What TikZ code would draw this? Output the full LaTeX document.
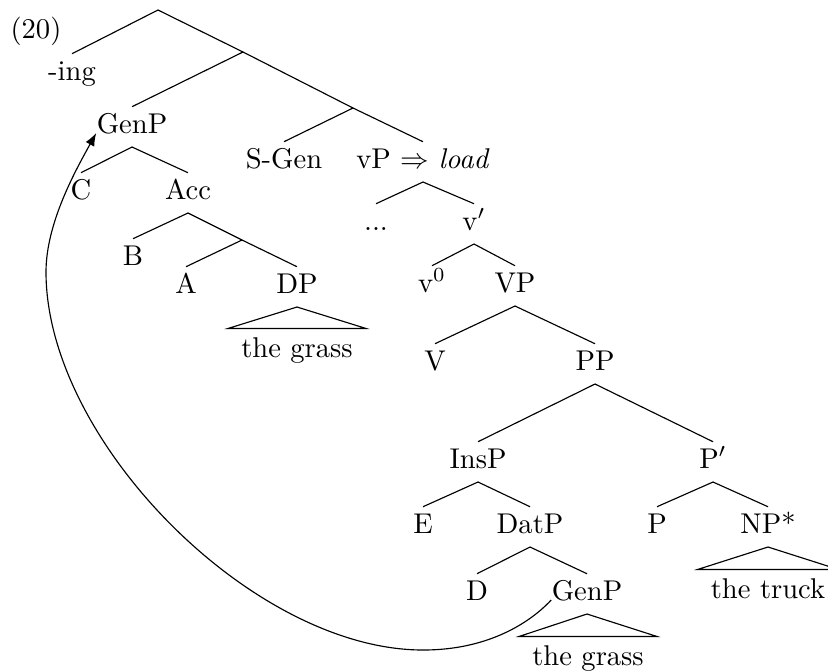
\documentclass[tikz,border=0pt]{standalone}
\usetikzlibrary{arrows.meta}
\begin{document}
\begin{tikzpicture}[x=0.35pt,y=-0.35pt,
  lab/.style={anchor=base, text height=7pt, text depth=2.7pt, inner xsep=0pt, inner ysep=2pt},
  tri/.style={anchor=base, text height=7pt, text depth=2pt, inner xsep=4.4pt, inner ysep=2.8pt},
  branch/.style={line width=0.4pt},
  move/.style={line width=0.4pt, -{Latex[length=4.5pt,width=3.4pt]}}]
\useasboundingbox (0,0) rectangle (828,671);
% label
\node[anchor=base west, inner sep=0pt] (ex) at (10,38) {(20)};
% top spine
\coordinate (root) at (158,10);
\coordinate (x1) at (243,52);
\coordinate (x2) at (353,108);
\node[lab] (ing) at (72,80) {-ing};
\node[lab] (genA) at (132,133) {GenP};
\node[lab] (sgen) at (284,168) {S-Gen};
\node[lab] (vp) at (423,168) {vP $\Rightarrow$ \textit{load}};
% GenP subtree
\node[lab] (c) at (81,199) {C};
\node[lab] (acc) at (188,199) {Acc};
\node[lab] (b) at (133,265) {B};
\coordinate (x3) at (242,240);
\node[lab] (a) at (186,293) {A};
\node[lab] (dp) at (297,293) {DP};
\node[tri] (grassA) at (297,357) {the grass};
% vP subtree
\node[lab] (dots) at (376,230) {...};
\node[lab] (vbar) at (474,230) {v$'$};
\node[lab] (v0) at (432,292) {v$^0$};
\node[lab] (vpp) at (515,292) {VP};
\node[lab] (v) at (435,370) {V};
\node[lab] (pp) at (595,370) {PP};
\node[lab] (insp) at (478,468) {InsP};
\node[lab] (pbar) at (713,468) {P$'$};
\node[lab] (e) at (423,533) {E};
\node[lab] (datp) at (530,533) {DatP};
\node[lab] (p) at (657,533) {P};
\node[lab] (np) at (768,533) {NP*};
\node[tri] (truck) at (768,598) {the truck};
\node[lab] (d) at (477,600) {D};
\node[lab] (genB) at (587,600) {GenP};
\node[tri] (grassB) at (588,665) {the grass};
% branches
\draw[branch] (ing.north) -- (root) -- (x1) -- (x2) -- (vp.north);
\draw[branch] (x1) -- (genA.north);
\draw[branch] (x2) -- (sgen.north);
\draw[branch] (c.north) -- (genA.south) -- (acc.north);
\draw[branch] (b.north) -- (acc.south) -- (x3) -- (dp.north);
\draw[branch] (x3) -- (a.north);
\draw[branch] (dp.south) -- (grassA.north west) -- (grassA.north east) -- cycle;
\draw[branch] (dots.north) -- (vp.south) -- (vbar.north);
\draw[branch] (v0.north) -- (vbar.south) -- (vpp.north);
\draw[branch] (v.north) -- (vpp.south) -- (pp.north);
\draw[branch] (insp.north) -- (pp.south) -- (pbar.north);
\draw[branch] (e.north) -- (insp.south) -- (datp.north);
\draw[branch] (p.north) -- (pbar.south) -- (np.north);
\draw[branch] (np.south) -- (truck.north west) -- (truck.north east) -- cycle;
\draw[branch] (d.north) -- (datp.south) -- (genB.north);
\draw[branch] (genB.south) -- (grassB.north west) -- (grassB.north east) -- cycle;
% movement arrow
\coordinate (bot) at (423,650);
\coordinate (lft) at (46,272);
\draw[move] (genB.base west) .. controls (540,612) and (500,650) .. (bot)
  .. controls (253,650) and (46,441) .. (lft)
  .. controls (46,222) and (77,168) .. (genA.base west);
\end{tikzpicture}
\end{document}
